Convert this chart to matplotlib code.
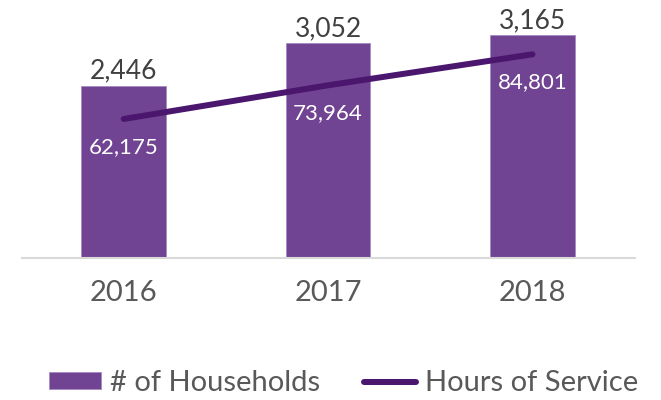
import matplotlib
matplotlib.use("Agg")
import matplotlib.pyplot as plt
from matplotlib.patches import Patch
from matplotlib.lines import Line2D

years = ["2016", "2017", "2018"]
households = [2446, 3052, 3165]
hours = [62175, 73964, 84801]

BAR_COLOR = "#704492"
LINE_COLOR = "#4B166E"
TEXT_COLOR = "#404040"

plt.rcParams['font.family'] = ['Lato', 'DejaVu Sans']

W, H = 661, 400
fig = plt.figure(figsize=(W / 100, H / 100), dpi=100)
ax = fig.add_axes([21.5 / W, 1 - 258 / H, 613.2 / W, 246.8 / H])
ax2 = ax.twinx()

x = list(range(len(years)))
ax.bar(x, households, width=0.413, color=BAR_COLOR, edgecolor="#A58BC0", linewidth=0.6, zorder=2)
ax.set_xlim(-0.5, 2.5)
ax.set_ylim(0, 3500)

ax2.plot(x, hours, color=LINE_COLOR, linewidth=4.3, solid_capstyle="round", zorder=3)
ax2.set_ylim(13574, 99868)

for a in (ax, ax2):
    for s in a.spines.values():
        s.set_visible(False)
    a.set_yticks([])
ax.spines['bottom'].set_visible(True)
ax.spines['bottom'].set_color("#D9D9D9")
ax.spines['bottom'].set_linewidth(1.5)

ax.set_xticks(x)
ax.set_xticklabels(years, fontsize=21, color="#595959")
ax.tick_params(axis='x', length=0, pad=16)

for xi, v in zip(x, households):
    ax.annotate(f"{v:,}", (xi, v), xytext=(0, 5), textcoords="offset points",
                ha="center", va="baseline", fontsize=19, color=TEXT_COLOR)

for xi, v in zip(x, hours):
    ax2.annotate(f"{v:,}", (xi, v), xytext=(0, -20), textcoords="offset points",
                 ha="center", va="center", fontsize=16, color="white", zorder=4)

handles = [Patch(facecolor=BAR_COLOR, edgecolor="#A58BC0", linewidth=0.6),
           Line2D([0], [0], color=LINE_COLOR, linewidth=4.3, solid_capstyle="round")]
leg = fig.legend(handles, ["# of Households", "Hours of Service"], loc="center",
                 bbox_to_anchor=(0.5195, 0.043), ncol=2, frameon=False, fontsize=21,
                 handlelength=1.8, handleheight=0.48, handletextpad=0.3, columnspacing=1.5,
                 borderpad=0, borderaxespad=0)
for t in leg.get_texts():
    t.set_color("#595959")

fig.savefig("out.png", dpi=100)
